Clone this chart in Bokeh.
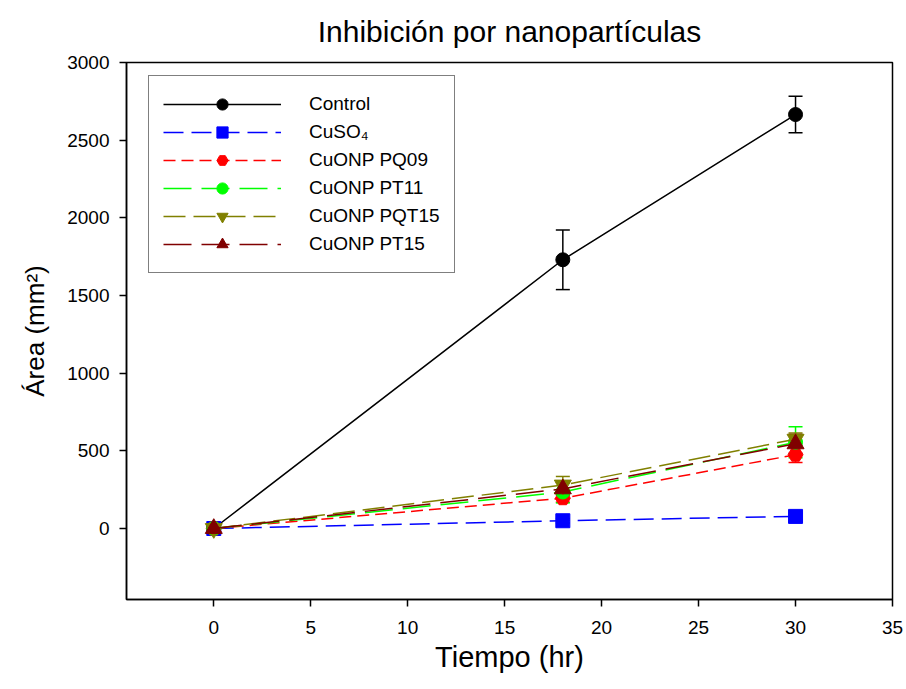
from bokeh.plotting import figure
from bokeh.models import (ColumnDataSource, Whisker, TeeHead, Legend, LegendItem,
                          FixedTicker, Range1d)
from bokeh.embed import file_html
from bokeh.resources import INLINE

# ---- data ----
title_text = "Inhibición por nanopartículas"
time = [0, 18, 30]
series_names = ["Control", "CuSO₄", "CuONP PQ09", "CuONP PT11", "CuONP PQT15", "CuONP PT15"]
control = [0, 1730, 2665]
control_err = [10, 192, 118]
cuso4 = [0, 50, 78]
cuso4_err = [5, 15, 22]
pq09 = [0, 195, 475]
pq09_err = [5, 25, 50]
pt11 = [0, 235, 555]
pt11_err = [5, 70, 100]
pqt15 = [0, 280, 575]
pqt15_err = [5, 55, 40]
pt15 = [0, 255, 545]
pt15_err = [5, 40, 60]
x_ticks = [0, 5, 10, 15, 20, 25, 30, 35]
y_ticks = [0, 500, 1000, 1500, 2000, 2500, 3000]

FONT = "Liberation Sans"

p = figure(width=903, height=680, output_backend="svg", toolbar_location=None,
           x_range=Range1d(-4.5, 35), y_range=Range1d(-457, 3000),
           min_border_left=126, min_border_right=11, min_border_top=62,
           min_border_bottom=81)

p.title.text = title_text
p.title.align = "center"
p.title.vertical_align = "top"
p.title.text_font = FONT
p.title.text_font_size = "30px"
p.title.text_font_style = "normal"
p.title.text_color = "black"
p.title.standoff = 25

p.xgrid.visible = False
p.ygrid.visible = False
p.outline_line_color = "black"
p.outline_line_width = 1.5

for ax in (p.xaxis[0], p.yaxis[0]):
    ax.axis_line_color = "black"
    ax.axis_line_width = 1.5
    ax.major_tick_out = 7
    ax.major_tick_in = 0
    ax.major_tick_line_width = 1.5
    ax.major_tick_line_color = "black"
    ax.minor_tick_line_color = None
    ax.major_label_text_font = FONT
    ax.major_label_text_font_size = "19px"
    ax.major_label_text_color = "black"
    ax.axis_label_text_font = FONT
    ax.axis_label_text_font_style = "normal"
    ax.axis_label_text_color = "black"

p.xaxis.axis_label_text_font_size = "29px"
p.yaxis.axis_label_text_font_size = "26px"
p.xaxis.ticker = FixedTicker(ticks=x_ticks)
p.yaxis.ticker = FixedTicker(ticks=y_ticks)
p.xaxis.axis_label = "Tiempo (hr)"
p.yaxis.axis_label = "Área (mm²)"
p.xaxis.major_label_standoff = 14
p.yaxis.major_label_standoff = 10
p.xaxis.axis_label_standoff = 4
p.yaxis.axis_label_standoff = 14

specs = [
    (control, control_err, "black", "solid", "circle", 14),
    (cuso4, cuso4_err, "#0000FF", "20 8", "square", 14),
    (pq09, pq09_err, "#FF0000", "12 6", "hex", 15),
    (pt11, pt11_err, "#00FF00", "28 10", "circle", 14),
    (pqt15, pqt15_err, "#808000", "22 8", "inverted_triangle", 17),
    (pt15, pt15_err, "#800000", "28 10", "triangle", 17),
]

items = []
for name, (vals, errs, color, dash, marker, size) in zip(series_names, specs):
    src = ColumnDataSource(dict(x=time, y=vals,
                                lo=[v - e for v, e in zip(vals, errs)],
                                hi=[v + e for v, e in zip(vals, errs)]))
    ln = p.line("x", "y", source=src, line_color=color, line_width=1.5, line_dash=dash)
    w = Whisker(base="x", lower="lo", upper="hi", source=src, line_color=color,
                line_width=1.5,
                upper_head=TeeHead(size=14, line_color=color, line_width=1.5),
                lower_head=TeeHead(size=14, line_color=color, line_width=1.5))
    p.add_layout(w)
    sc = p.scatter("x", "y", source=src, marker=marker, size=size,
                   fill_color=color, line_color=color)
    items.append(LegendItem(label=name, renderers=[ln, sc]))

legend = Legend(items=items, location=(22, 326))
legend.label_text_font = FONT
legend.label_text_font_size = "19px"
legend.label_text_color = "black"
legend.glyph_width = 118
legend.glyph_height = 28
legend.label_standoff = 28
legend.spacing = 0
legend.padding = 14
legend.margin = 0
legend.border_line_color = "black"
legend.border_line_width = 1.5
legend.background_fill_alpha = 1.0
p.add_layout(legend)

open("out.html", "w").write(file_html(p, INLINE))
